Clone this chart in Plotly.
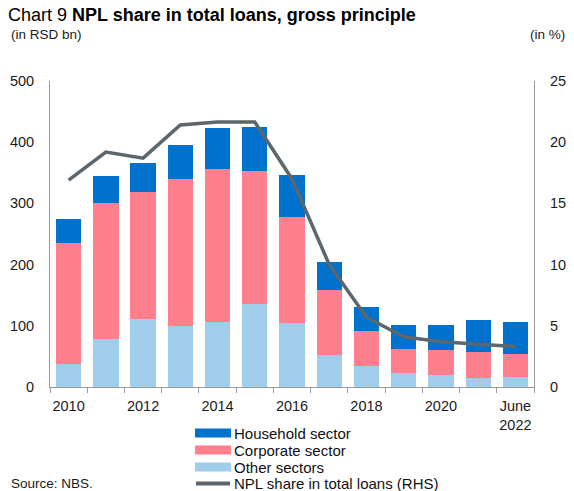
import plotly.graph_objects as go

# ── Data ─────────────────────────────────────────────────────────────────────
years = [str(y) for y in range(2010, 2023)]
tick_text = ["2010", "", "2012", "", "2014", "", "2016", "", "2018", "", "2020", "", "June<br>2022"]

other_sectors = [37, 78, 111, 100, 106, 135, 105, 52, 34, 23, 19, 15, 16]
corporate_top = [236, 301, 319, 340, 356, 353, 277, 159, 91, 62, 60, 58, 54]
total_npl     = [274, 345, 366, 396, 423, 425, 346, 204, 130, 102, 102, 109, 106]
npl_share     = [16.9, 19.2, 18.7, 21.4, 21.65, 21.65, 17.0, 10.0, 5.7, 4.1, 3.7, 3.5, 3.3]

legend_names = ["Household sector", "Corporate sector", "Other sectors",
                "NPL share in total loans (RHS)"]

corporate = [c - o for c, o in zip(corporate_top, other_sectors)]
household = [t - c for t, c in zip(total_npl, corporate_top)]

C_HOUSE = "#0072CE"
C_CORP  = "#FF7F8C"
C_OTHER = "#A0CDEA"
C_LINE  = "#5B666E"
C_AXIS  = "#9a9a9a"
FONT    = "Liberation Sans, Arial, sans-serif"

W, H = 574, 491
L, R, T, B = 50, 40, 81, 104
PW, PH = W - L - R, H - T - B

def px_x(x):
    return (x - L) / PW

def px_y(y):
    return (H - B - y) / PH

fig = go.Figure()

fig.add_trace(go.Bar(x=years, y=other_sectors, name="Other sectors",
                     marker_color=C_OTHER, marker_line=dict(width=0)))
fig.add_trace(go.Bar(x=years, y=corporate, name="Corporate sector",
                     marker_color=C_CORP, marker_line=dict(width=0)))
fig.add_trace(go.Bar(x=years, y=household, name="Household sector",
                     marker_color=C_HOUSE, marker_line=dict(width=0)))
fig.add_trace(go.Scatter(x=years, y=npl_share, mode="lines", yaxis="y2",
                         name="NPL share in total loans (RHS)",
                         line=dict(color=C_LINE, width=3.5)))

# ── Hand-made legend (wide swatches, tight rows as in the original) ─────────
shapes, annotations = [], []
row_y = [433, 450, 467, 483.5]
swatch_cols = [C_HOUSE, C_CORP, C_OTHER]
for i, (name, yc) in enumerate(zip(legend_names, row_y)):
    if i < 3:
        shapes.append(dict(type="rect", xref="paper", yref="paper",
                           x0=px_x(195), x1=px_x(231), y0=px_y(yc + 4.5), y1=px_y(yc - 4.5),
                           fillcolor=swatch_cols[i], line=dict(width=0), layer="above"))
    else:
        shapes.append(dict(type="line", xref="paper", yref="paper",
                           x0=px_x(196), x1=px_x(230), y0=px_y(yc), y1=px_y(yc),
                           line=dict(color=C_LINE, width=4), layer="above"))
    annotations.append(dict(text=name, xref="paper", yref="paper", x=px_x(232), y=px_y(yc),
                            xanchor="left", yanchor="middle", showarrow=False,
                            font=dict(size=15, color="#111111")))

annotations += [
    dict(text="(in RSD bn)", xref="paper", yref="paper", x=px_x(9), y=px_y(34),
         xanchor="left", yanchor="middle", showarrow=False, font=dict(size=13.5)),
    dict(text="(in %)", xref="paper", yref="paper", x=px_x(567), y=px_y(34),
         xanchor="right", yanchor="middle", showarrow=False, font=dict(size=13.5)),
    dict(text="Source: NBS.", xref="paper", yref="paper", x=px_x(9), y=px_y(483.5),
         xanchor="left", yanchor="middle", showarrow=False, font=dict(size=13.5)),
]

fig.update_layout(
    width=W, height=H,
    margin=dict(l=L, r=R, t=T, b=B, autoexpand=False),
    barmode="stack", bargap=0.32,
    showlegend=False,
    plot_bgcolor="white", paper_bgcolor="white",
    font=dict(family=FONT, size=14.5, color="#1a1a1a"),
    title=dict(text="Chart 9 <b>NPL share in total loans, gross principle</b>",
               xref="container", x=0.014, xanchor="left",
               y=1 - 15 / H, yanchor="middle",
               font=dict(size=18, color="#000000")),
    xaxis=dict(type="category", tickmode="array", tickvals=years, ticktext=tick_text,
               tickson="boundaries", ticks="outside", ticklen=5, tickcolor=C_AXIS,
               tickangle=0, ticklabelstandoff=6,
               showline=True, linecolor=C_AXIS, linewidth=1, showgrid=False,
               zeroline=False),
    yaxis=dict(range=[0, 500], dtick=100, ticks="", ticklabelstandoff=12,
               showline=True, linecolor=C_AXIS, showgrid=False, zeroline=False),
    yaxis2=dict(range=[0, 25], dtick=5, overlaying="y", side="right", ticks="",
                ticklabelstandoff=12,
                showline=True, linecolor=C_AXIS, showgrid=False, zeroline=False),
    shapes=shapes,
    annotations=annotations,
)

fig.write_html("out.html", config={"displayModeBar": False},
               post_script="document.body.style.margin='0';")
